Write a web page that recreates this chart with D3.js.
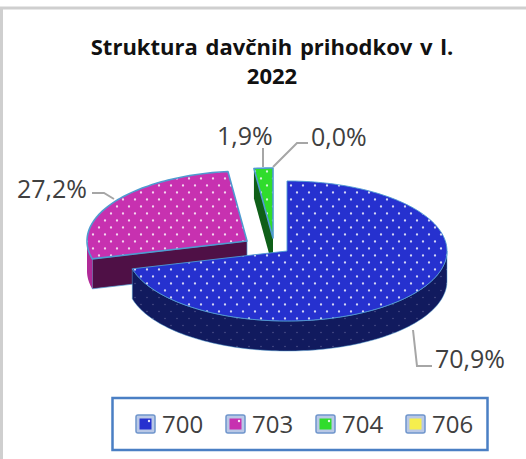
<!DOCTYPE html>
<html><head><meta charset="utf-8">
<script src="https://cdn.jsdelivr.net/npm/d3@7"></script>
<style>html,body{margin:0;padding:0;background:#fff}svg{display:block}text{font-family:"Open Sans",sans-serif}</style>
</head><body><svg id="c" width="526" height="459"></svg>
<script>
const categories = ["700","703","704","706"];
const values = [70.9,27.2,1.9,0.0];
const labels = ["70,9%","27,2%","1,9%","0,0%"];
const colors = ["#2631cf","#c731b0","#30dc2c","#f5ee4e"];
const wallColors = ["#111a5e","#4f1046","#0f5f18","#8a8520"];
const titleLines = ["Struktura davčnih prihodkov v l.","2022"];

const svg = d3.select("#c");
const defs = svg.append("defs");
function pat(id,bg,dot,op,r){
  const p = defs.append("pattern").attr("id",id).attr("patternUnits","userSpaceOnUse").attr("width",12).attr("height",14);
  p.append("rect").attr("width",12).attr("height",14).attr("fill",bg);
  [[3,3.5],[9,10.5]].forEach(d=>p.append("circle").attr("cx",d[0]).attr("cy",d[1]).attr("r",r).attr("fill",dot).attr("opacity",op));
}
colors.forEach((c,i)=>{pat("top"+i,c,"#fff",.8,1.15);pat("wall"+i,wallColors[i],"#b8b8d8",.35,.8);});

// frame
svg.append("path").attr("d","M1.5 459V8H526").attr("fill","none").attr("stroke","#cfcfcf").attr("stroke-width",3);

// title
svg.append("g").selectAll("text").data(titleLines).join("text")
  .attr("x",272).attr("y",(d,i)=>55+i*29).attr("text-anchor","middle")
  .attr("font-size",22).attr("font-weight",700).attr("fill","#111").attr("word-spacing",2).text(d=>d);

// pie geometry
const rx=160, ry=70, depth=30;
const x=d3.scaleLinear().domain([0,1]).range([0,rx]);
const y=d3.scaleLinear().domain([0,1]).range([0,ry]);
const pie=d3.pie().sort(null).value(d=>d);
const arcs=pie(values);
const centers=[[287,251],[247,241],[273,238],[273,238]];
const pt=(c,a,dz=0)=>[c[0]+x(Math.sin(a)),c[1]-y(Math.cos(a))+dz];
const line=d3.line();
function rim(c,a0,a1,dz){const n=Math.max(2,Math.ceil((a1-a0)*40));return d3.range(n+1).map(i=>pt(c,a0+(a1-a0)*i/n,dz));}
const edge="#4f9bd0";
const order=[1,2,0];
const g=svg.append("g");
order.forEach(i=>{
  const a=arcs[i],c=centers[i];
  if(i===1){
    const p=pt(c,a.startAngle);
    g.append("path").attr("d",line([c,p,[p[0],p[1]+depth],[c[0],c[1]+depth]])+"Z").attr("fill",wallColors[i]).attr("stroke",edge).attr("stroke-width",.7);
    const r0=rim(c,a.startAngle,3*Math.PI/2,0), r1=rim(c,a.startAngle,3*Math.PI/2,depth).reverse();
    g.append("path").attr("d",line(r0.concat(r1))+"Z").attr("fill","#b02a98");
  }
  if(i===2){
    const p=pt(c,a.startAngle);
    g.append("path").attr("d",line([c,p,[p[0],p[1]+depth],[c[0],c[1]+depth]])+"Z").attr("fill",wallColors[i]);
  }
  if(i===0){
    const a0=Math.PI/2,a1=a.endAngle;
    const r0=rim(c,a0,a1,0), r1=rim(c,a0,a1,depth).reverse();
    g.append("path").attr("d",line(r0.concat(r1))+"Z").attr("fill",`url(#wall${i})`).attr("stroke",edge).attr("stroke-width",.5);
  }
  const top=[c].concat(rim(c,a.startAngle,a.endAngle,0));
  g.append("path").attr("d",line(top)+"Z").attr("fill",`url(#top${i})`).attr("stroke",edge).attr("stroke-width",i===0?.9:1.6).attr("stroke-linejoin","round");
});

// leader lines
const leaders=[
 [[413,330],[417,366],[432,366]],
 [[92,193],[104,193],[114,199]],
 [[263,148],[263,167]],
 [[273,167],[297,143],[308,143]]
];
svg.append("g").selectAll("path").data(leaders).join("path").attr("d",d=>line(d)).attr("fill","none").attr("stroke","#a6a6a6").attr("stroke-width",2);

// data labels
const labelPos=[[435,368],[17,198],[217,145],[311,146]];
svg.append("g").selectAll("text").data(labels).join("text")
  .attr("x",(d,i)=>labelPos[i][0]).attr("y",(d,i)=>labelPos[i][1])
  .attr("font-size",25).attr("fill","#404040").text(d=>d);

// legend
svg.append("rect").attr("x",112.5).attr("y",398).attr("width",375).attr("height",52).attr("fill","#fff").attr("stroke","#4a7fc4").attr("stroke-width",2.5);
const lx=d3.scalePoint().domain(categories).range([136,406]);
const lg=svg.append("g").selectAll("g").data(categories).join("g").attr("transform",d=>`translate(${lx(d)},415)`);
lg.append("rect").attr("width",19).attr("height",18).attr("rx",2).attr("fill","#b9c8e6").attr("stroke","#6f95cc").attr("stroke-width",1.5);
lg.append("rect").attr("x",3.5).attr("y",3.5).attr("width",12).attr("height",11).attr("fill",(d,i)=>colors[i]);
lg.append("circle").attr("cx",13).attr("cy",6).attr("r",1.2).attr("fill","#fff").attr("opacity",(d,i)=>i===3?0:.9);
lg.append("text").attr("x",26).attr("y",18).attr("font-size",24).attr("fill","#404040").text(d=>d);
</script></body></html>
